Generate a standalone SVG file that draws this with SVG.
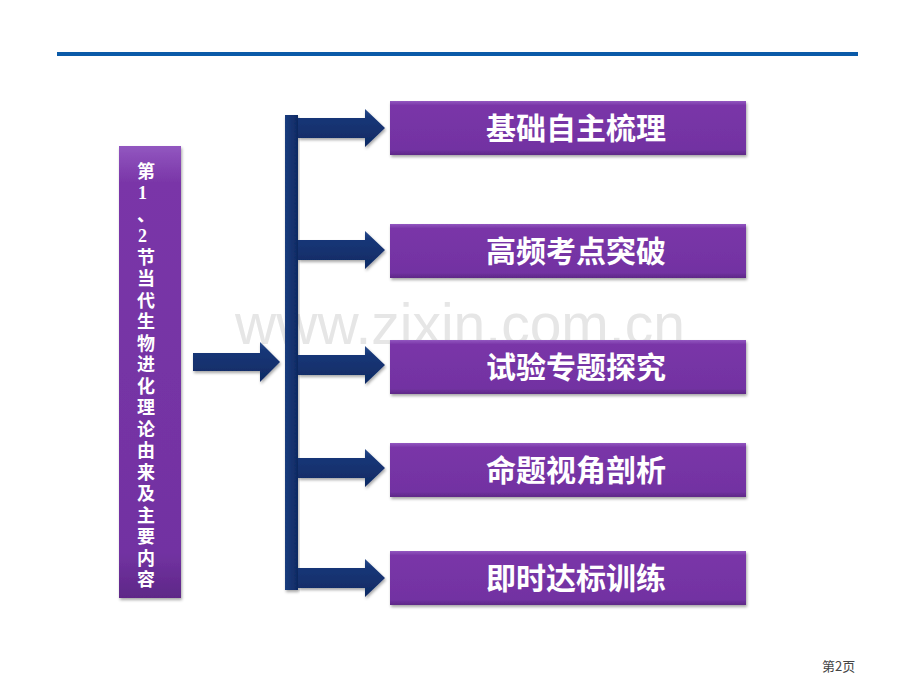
<svg xmlns="http://www.w3.org/2000/svg" width="920" height="690" viewBox="0 0 920 690">
<defs>
<linearGradient id="pg" x1="0" y1="0" x2="0" y2="1">
<stop offset="0" stop-color="#9257c0"/>
<stop offset="0.08" stop-color="#7a36a8"/>
<stop offset="0.9" stop-color="#7232a2"/>
<stop offset="1" stop-color="#5e2887"/>
</linearGradient>
<linearGradient id="ag" x1="0" y1="0" x2="0" y2="1">
<stop offset="0" stop-color="#2a4d8e"/>
<stop offset="0.2" stop-color="#173778"/>
<stop offset="1" stop-color="#0f2a63"/>
</linearGradient>
<linearGradient id="vg" x1="0" y1="0" x2="1" y2="0">
<stop offset="0" stop-color="#1a3c7e"/>
<stop offset="1" stop-color="#0f2a63"/>
</linearGradient>
<filter id="sh" x="-10%" y="-20%" width="120%" height="150%">
<feDropShadow dx="1" dy="2" stdDeviation="1.5" flood-color="#000" flood-opacity="0.35"/>
</filter>
<path id="arr" d="M0,-10 H67 V-19 L87,0 L67,19 V10 H0 Z"/>
</defs>
<style>
.box{fill:url(#pg);filter:url(#sh);}
.lbl{font-family:"Noto Sans CJK SC","Noto Sans",sans-serif;font-weight:bold;font-size:30px;fill:#fff;text-anchor:middle;}
.vt{font-family:"Liberation Serif","Noto Sans CJK SC",serif;font-weight:bold;font-size:18px;fill:#fff;}
.arrow{fill:url(#ag);filter:url(#sh);}
</style>
<rect width="920" height="690" fill="#fff"/>
<text x="460" y="344" font-family="Liberation Sans, Arial, sans-serif" font-size="57" fill="#e6e6e6" text-anchor="middle">www.zixin.com.cn</text>
<rect x="57" y="52" width="801" height="4" fill="#0a5aa8"/>

<g id="left-box">
<rect class="box" x="119" y="146" width="62" height="452"/>
<text class="vt">
<tspan x="137" y="178">第</tspan>
<tspan x="138" y="199">1</tspan>
<tspan x="137" y="221">、</tspan>
<tspan x="138" y="242">2</tspan>
<tspan x="137" y="264">节</tspan>
<tspan x="137" y="285">当</tspan>
<tspan x="137" y="307">代</tspan>
<tspan x="137" y="328">生</tspan>
<tspan x="137" y="350">物</tspan>
<tspan x="137" y="371">进</tspan>
<tspan x="137" y="393">化</tspan>
<tspan x="137" y="414">理</tspan>
<tspan x="137" y="436">论</tspan>
<tspan x="137" y="457">由</tspan>
<tspan x="137" y="479">来</tspan>
<tspan x="137" y="500">及</tspan>
<tspan x="137" y="522">主</tspan>
<tspan x="137" y="543">要</tspan>
<tspan x="137" y="565">内</tspan>
<tspan x="137" y="586">容</tspan>
</text>
</g>

<g id="connectors">
<path class="arrow" d="M193,353 H260 V342 L280,362 L260,382 V371 H193 Z"/>
<rect x="285" y="115" width="13" height="475" fill="url(#vg)" filter="url(#sh)"/>
<use href="#arr" class="arrow" transform="translate(298,128)"/>
<use href="#arr" class="arrow" transform="translate(298,250)"/>
<use href="#arr" class="arrow" transform="translate(298,365)"/>
<use href="#arr" class="arrow" transform="translate(298,468)"/>
<use href="#arr" class="arrow" transform="translate(298,578)"/>
</g>

<g id="n1"><rect class="box" x="390" y="101" width="356" height="54"/><text class="lbl" x="576" y="139">基础自主梳理</text></g>
<g id="n2"><rect class="box" x="390" y="224" width="356" height="54"/><text class="lbl" x="576" y="262">高频考点突破</text></g>
<g id="n3"><rect class="box" x="390" y="340" width="356" height="54"/><text class="lbl" x="576" y="378">试验专题探究</text></g>
<g id="n4"><rect class="box" x="390" y="443" width="356" height="54"/><text class="lbl" x="576" y="481">命题视角剖析</text></g>
<g id="n5"><rect class="box" x="390" y="551" width="356" height="54"/><text class="lbl" x="576" y="589">即时达标训练</text></g>

<text x="822" y="671" font-family="Noto Sans CJK SC, sans-serif" font-size="13" fill="#444">第2页</text>
</svg>
